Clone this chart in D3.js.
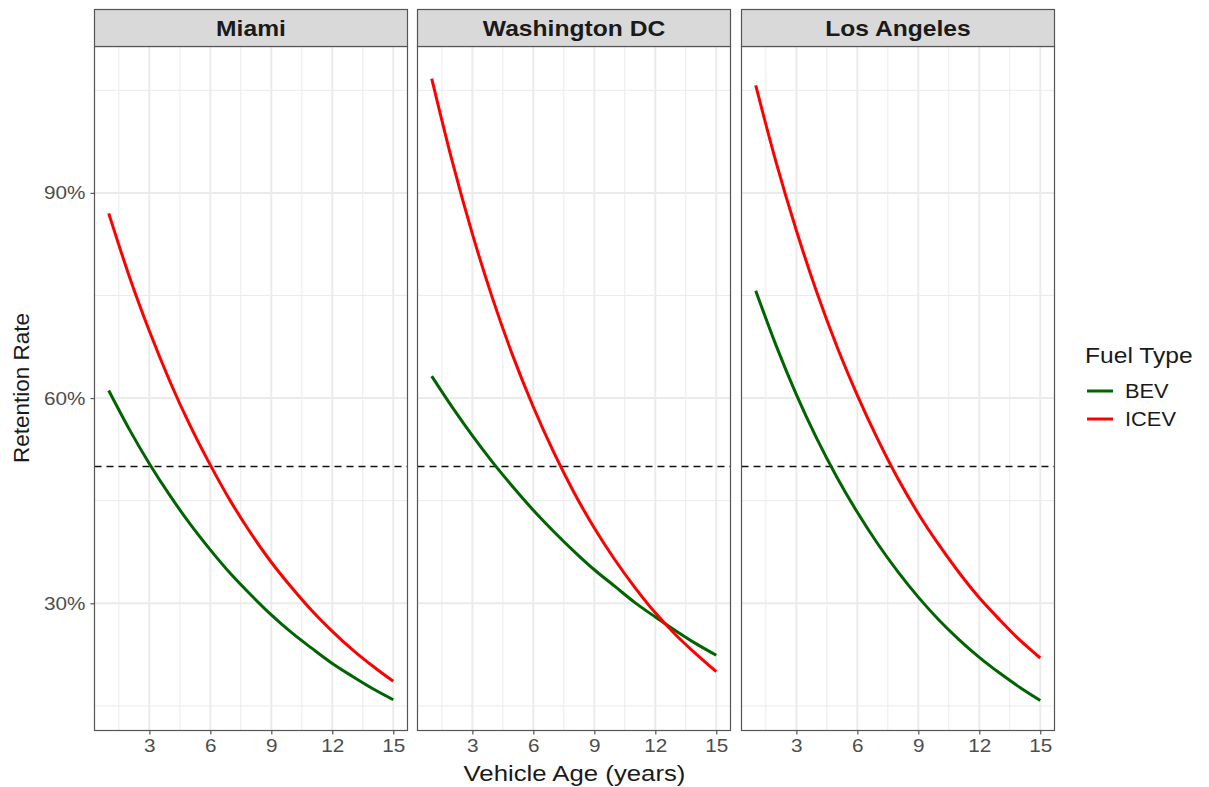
<!DOCTYPE html>
<html>
<head>
<meta charset="utf-8">
<script src="https://cdn.jsdelivr.net/npm/d3@7"></script>
<style>
  body { margin: 0; background: #fff; }
  text { font-family: "Liberation Sans", Arial, sans-serif; }
</style>
</head>
<body>
<div id="chart"></div>
<script>
const cities = ['Miami', 'Washington DC', 'Los Angeles'];
const ages = [1, 2, 3, 4, 5, 6, 7, 8, 9, 10, 11, 12, 13, 14, 15];
const fuelTypes = ['BEV', 'ICEV'];

// retention rate (%) by vehicle age
const miamiBEV  = [61.1, 55.5, 50.4, 45.8, 41.6, 37.8, 34.3, 31.2, 28.3, 25.7, 23.4, 21.2, 19.3, 17.5, 15.9];
const miamiICEV = [87.0, 77.9, 69.8, 62.5, 56.0, 50.2, 44.9, 40.2, 36.0, 32.3, 28.9, 25.9, 23.2, 20.8, 18.6];
const dcBEV     = [63.2, 58.7, 54.5, 50.6, 47.0, 43.6, 40.5, 37.6, 34.9, 32.5, 30.1, 28.0, 26.0, 24.1, 22.4];
const dcICEV    = [106.7, 94.7, 84.0, 74.5, 66.1, 58.7, 52.1, 46.2, 41.0, 36.4, 32.3, 28.6, 25.4, 22.6, 20.0];
const laBEV     = [75.7, 67.7, 60.5, 54.1, 48.4, 43.3, 38.7, 34.6, 30.9, 27.6, 24.7, 22.1, 19.8, 17.7, 15.8];
const laICEV    = [105.7, 94.5, 84.5, 75.5, 67.5, 60.4, 54.0, 48.2, 43.1, 38.6, 34.5, 30.8, 27.6, 24.6, 22.0];

const threshold = 50;
const xTicks = [3, 6, 9, 12, 15];
const xMinor = [1.5, 4.5, 7.5, 10.5, 13.5];
const yTicks = [30, 60, 90];
const yMinor = [15, 45, 75, 105];

const seriesByCity = {
  'Miami': { BEV: miamiBEV, ICEV: miamiICEV },
  'Washington DC': { BEV: dcBEV, ICEV: dcICEV },
  'Los Angeles': { BEV: laBEV, ICEV: laICEV }
};
const colors = { BEV: '#006400', ICEV: '#ff0000' };

const W = 1209, H = 787;
const panelLeft = [94.5, 417.5, 741.5];
const panelW = 313;
const stripTop = 9.5, stripH = 37;
const panelTop = stripTop + stripH, panelBottom = 730.5;
const sx = 1.12; // the reference text is a bit wider than tall

const svg = d3.select('#chart').append('svg')
  .attr('width', W).attr('height', H);

function label(parent, px, py, str, size, opts) {
  opts = opts || {};
  return parent.append('text')
    .attr('transform', 'translate(' + px + ',' + py + ') scale(' + sx + ',1)')
    .attr('text-anchor', opts.anchor || 'start')
    .attr('font-size', size)
    .attr('font-weight', opts.weight || 'normal')
    .attr('fill', opts.fill || '#1a1a1a')
    .text(str);
}

const x = d3.scaleLinear().domain([0.3, 15.7]).range([0, panelW]);
const y = d3.scaleLinear().domain([11.4, 111.4]).range([panelBottom, panelTop]);

const line = d3.line()
  .x((d, i) => x(ages[i]))
  .y(d => y(d))
  .curve(d3.curveMonotoneX);

cities.forEach((city, ci) => {
  const g = svg.append('g').attr('transform', 'translate(' + panelLeft[ci] + ',0)');

  // grid
  g.selectAll('.ymin').data(yMinor).enter().append('line')
    .attr('x1', 0).attr('x2', panelW)
    .attr('y1', d => y(d)).attr('y2', d => y(d))
    .attr('stroke', '#ebebeb').attr('stroke-width', 1);
  g.selectAll('.xmin').data(xMinor).enter().append('line')
    .attr('x1', d => x(d)).attr('x2', d => x(d))
    .attr('y1', panelTop).attr('y2', panelBottom)
    .attr('stroke', '#ebebeb').attr('stroke-width', 1);
  g.selectAll('.ymaj').data(yTicks).enter().append('line')
    .attr('x1', 0).attr('x2', panelW)
    .attr('y1', d => y(d)).attr('y2', d => y(d))
    .attr('stroke', '#ebebeb').attr('stroke-width', 2);
  g.selectAll('.xmaj').data(xTicks).enter().append('line')
    .attr('x1', d => x(d)).attr('x2', d => x(d))
    .attr('y1', panelTop).attr('y2', panelBottom)
    .attr('stroke', '#ebebeb').attr('stroke-width', 2);

  // 50% reference
  g.append('line')
    .attr('x1', 0).attr('x2', panelW)
    .attr('y1', y(threshold)).attr('y2', y(threshold))
    .attr('stroke', '#111').attr('stroke-width', 1.4)
    .attr('stroke-dasharray', '7,5');

  fuelTypes.forEach(ft => {
    g.append('path')
      .datum(seriesByCity[city][ft])
      .attr('fill', 'none')
      .attr('stroke', colors[ft])
      .attr('stroke-width', 3)
      .attr('d', line);
  });

  // border
  g.append('rect')
    .attr('x', 0).attr('y', panelTop)
    .attr('width', panelW).attr('height', panelBottom - panelTop)
    .attr('fill', 'none').attr('stroke', '#555').attr('stroke-width', 1.2);

  // strip
  g.append('rect')
    .attr('x', 0).attr('y', stripTop)
    .attr('width', panelW).attr('height', stripH)
    .attr('fill', '#d9d9d9').attr('stroke', '#555').attr('stroke-width', 1.2);
  label(g, panelW / 2, stripTop + stripH / 2 + 7.5, city, 22, { anchor: 'middle', weight: 'bold' });

  // x axis
  const xAxis = g.append('g')
    .attr('transform', 'translate(0,' + panelBottom + ')')
    .call(d3.axisBottom(x).tickValues(xTicks).tickSize(4).tickPadding(4));
  xAxis.select('.domain').remove();
  xAxis.selectAll('line').attr('stroke', '#555').attr('stroke-width', 1.2);
  xAxis.selectAll('text').attr('font-size', 18.5).attr('fill', '#4d4d4d')
    .attr('font-family', '"Liberation Sans", Arial, sans-serif')
    .attr('transform', 'scale(' + sx + ',1)');

  if (ci === 0) {
    const yAxis = g.append('g')
      .call(d3.axisLeft(y).tickValues(yTicks).tickSize(4).tickPadding(5)
        .tickFormat(d => d + '%'));
    yAxis.select('.domain').remove();
    yAxis.selectAll('line').attr('stroke', '#555').attr('stroke-width', 1.2);
    yAxis.selectAll('text').attr('font-size', 18.5).attr('fill', '#4d4d4d')
      .attr('font-family', '"Liberation Sans", Arial, sans-serif')
      .attr('x', -9 / sx)
      .attr('transform', 'scale(' + sx + ',1)');
  }
});

// axis titles
label(svg, (panelLeft[0] + panelLeft[2] + panelW) / 2, 781, 'Vehicle Age (years)', 23, { anchor: 'middle' });
svg.append('text')
  .attr('transform', 'translate(29,388) rotate(-90)')
  .attr('text-anchor', 'middle').attr('font-size', 22.5).attr('fill', '#1a1a1a')
  .text('Retention Rate');

// legend
const legend = svg.append('g').attr('transform', 'translate(1085,0)');
label(legend, 0, 363, 'Fuel Type', 22);
fuelTypes.forEach((ft, i) => {
  const ly = 391 + i * 28;
  legend.append('line')
    .attr('x1', 2).attr('x2', 28).attr('y1', ly).attr('y2', ly)
    .attr('stroke', colors[ft]).attr('stroke-width', 3);
  label(legend, 40, ly + 7, ft, 19.5);
});
</script>
</body>
</html>
